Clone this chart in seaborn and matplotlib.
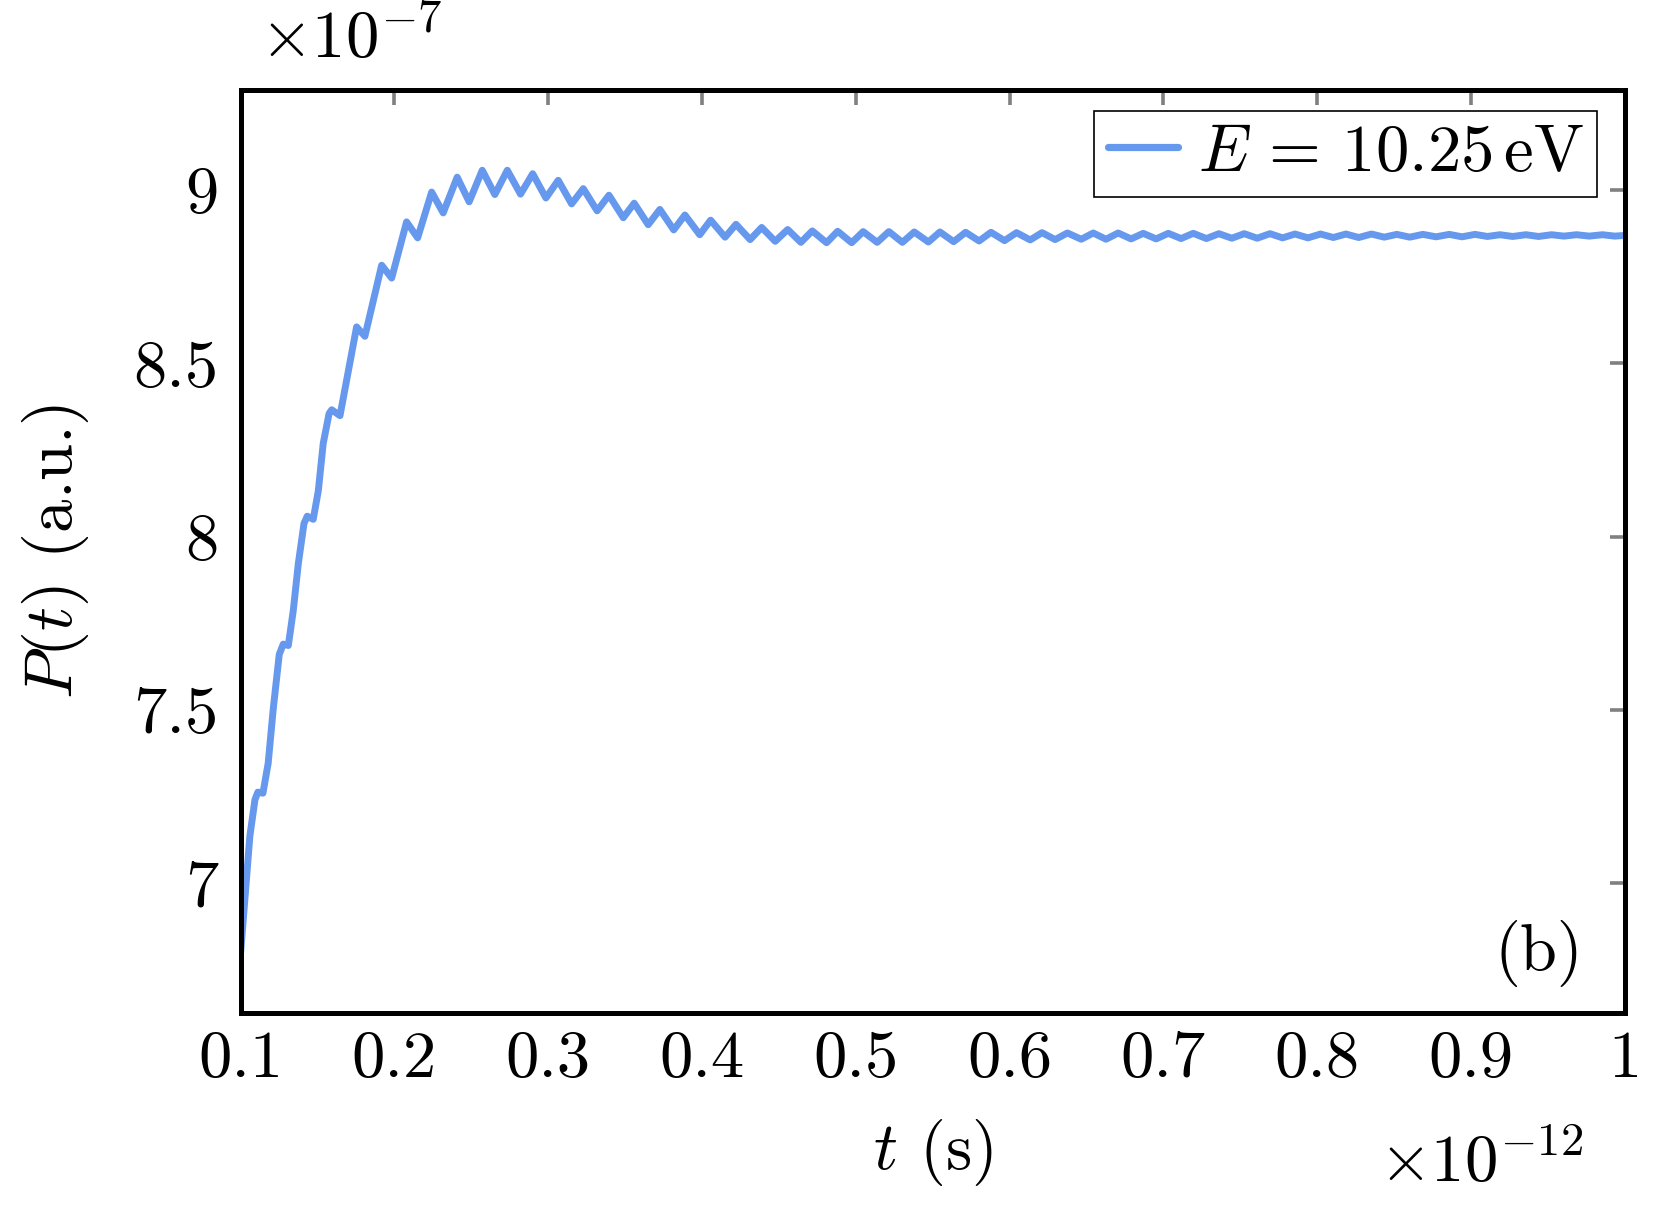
import matplotlib
matplotlib.use("Agg")
import matplotlib.pyplot as plt
import seaborn as sns
import pandas as pd

# time in units of 1e-12 s, P in units of 1e-7 a.u.
t_rise = [0.1000, 0.1060, 0.1093, 0.1112, 0.1145, 0.1179, 0.1212, 0.1251, 0.1277,
          0.1310, 0.1342, 0.1375, 0.1412, 0.1433, 0.1472, 0.1505, 0.1537, 0.1575]
p_rise = [6.800, 7.136, 7.241, 7.263, 7.260, 7.346, 7.503, 7.660, 7.690,
          7.686, 7.786, 7.922, 8.038, 8.059, 8.050, 8.132, 8.269, 8.355]

t_peak = [0.1592, 0.1754, 0.1917, 0.2079, 0.2242, 0.2408, 0.2571, 0.2734, 0.2899, 0.3065,
          0.3228, 0.3395, 0.3559, 0.3726, 0.3889, 0.4056, 0.4221, 0.4388, 0.4557, 0.4717,
          0.4882, 0.5048, 0.5215, 0.5380, 0.5547, 0.5714, 0.5879, 0.6045, 0.6211, 0.6376,
          0.6544, 0.6706, 0.6869, 0.7032, 0.7194, 0.7361, 0.7526, 0.7693, 0.7856, 0.8022,
          0.8187, 0.8353, 0.8518, 0.8687, 0.8859, 0.9026, 0.9188, 0.9357, 0.9524, 0.9686, 0.9855]
p_peak = [8.366, 8.605, 8.783, 8.908, 8.994, 9.037, 9.057, 9.057, 9.047, 9.028,
          9.004, 8.985, 8.962, 8.944, 8.928, 8.913, 8.901, 8.892, 8.886, 8.882,
          8.881, 8.880, 8.880, 8.879, 8.879, 8.878, 8.878, 8.877, 8.877, 8.876,
          8.876, 8.876, 8.875, 8.875, 8.875, 8.874, 8.874, 8.874, 8.873, 8.873,
          8.873, 8.873, 8.872, 8.872, 8.872, 8.872, 8.871, 8.871, 8.871, 8.871, 8.871]

t_trough = [0.1646, 0.1808, 0.1982, 0.2151, 0.2317, 0.2486, 0.2653, 0.2820, 0.2985, 0.3152,
            0.3318, 0.3488, 0.3650, 0.3816, 0.3985, 0.4150, 0.4313, 0.4476, 0.4643, 0.4810,
            0.4973, 0.5139, 0.5303, 0.5472, 0.5636, 0.5802, 0.5967, 0.6134, 0.6296, 0.6466,
            0.6627, 0.6790, 0.6953, 0.7115, 0.7280, 0.7445, 0.7610, 0.7775, 0.7940, 0.8105,
            0.8270, 0.8436, 0.8602, 0.8773, 0.8942, 0.9107, 0.9272, 0.9440, 0.9605, 0.9770, 0.9935]
p_trough = [8.349, 8.578, 8.746, 8.862, 8.934, 8.966, 8.987, 8.988, 8.977, 8.960,
            8.940, 8.920, 8.900, 8.885, 8.871, 8.864, 8.857, 8.852, 8.849, 8.848,
            8.848, 8.849, 8.849, 8.850, 8.851, 8.853, 8.854, 8.856, 8.857, 8.858,
            8.858, 8.859, 8.859, 8.860, 8.860, 8.861, 8.861, 8.862, 8.862, 8.863,
            8.863, 8.864, 8.864, 8.865, 8.865, 8.866, 8.866, 8.866, 8.867, 8.867, 8.867]

t_end = [1.0]
p_end = [8.869]

x_ticks = [0.1, 0.2, 0.3, 0.4, 0.5, 0.6, 0.7, 0.8, 0.9, 1.0]
y_ticks = [7, 7.5, 8, 8.5, 9]

df = pd.DataFrame({"t": t_rise + t_peak + t_trough + t_end,
                   "P": p_rise + p_peak + p_trough + p_end}).sort_values("t")

sns.set_theme(style="white")
plt.rcParams["mathtext.fontset"] = "cm"
plt.rcParams["font.family"] = ["cmr10", "DejaVu Serif"]
plt.rcParams["axes.formatter.use_mathtext"] = True
plt.rcParams["text.color"] = "black"
plt.rcParams["axes.labelcolor"] = "black"
plt.rcParams["xtick.labelcolor"] = "black"
plt.rcParams["ytick.labelcolor"] = "black"

FS = 24
fig = plt.figure(figsize=(8.315, 6.085), dpi=200)
ax = fig.add_axes([0.1447, 0.1674, 0.8323, 0.7585])

line_color = "#6699EE"
sns.lineplot(data=df, x="t", y="P", ax=ax, color=line_color, linewidth=2.5,
             estimator=None, sort=True, label=r"$E\,=\,10.25\,\mathrm{eV}$")
ax.lines[0].set_linewidth(2.5)
ax.lines[0].set_solid_joinstyle("round")

ax.set_xlim(0.1, 1.0)
ax.set_ylim(6.625, 9.288)
ax.set_xticks(x_ticks)
ax.set_yticks(y_ticks)
ax.set_xticklabels([f"{v:g}" for v in x_ticks])
ax.set_yticklabels([f"{v:g}" for v in y_ticks])
ax.tick_params(direction="in", length=5.4, width=1.3, color="#808080",
               top=True, right=True, labelsize=FS, labelcolor="black")
ax.tick_params(axis="x", pad=6)
ax.tick_params(axis="y", pad=8)
for s in ax.spines.values():
    s.set_color("black")
    s.set_linewidth(1.8)

ax.set_xlabel(r"$t$ (s)", fontsize=FS, color="black")
ax.set_ylabel(r"$P(t)$ (a.u.)", fontsize=FS, color="black")
ax.xaxis.set_label_coords(0.5, -0.112)
ax.yaxis.set_label_coords(-0.108, 0.5)

leg = ax.legend(loc="upper right", bbox_to_anchor=(0.9797, 0.9778), borderaxespad=0,
                fontsize=FS, fancybox=False, framealpha=1, edgecolor="black",
                handlelength=1.05, handletextpad=0.3, borderpad=0.2)
leg.get_frame().set_linewidth(0.6)
leg.get_lines()[0].set_linewidth(2.6)
for txt in leg.get_texts():
    txt.set_color("black")

ax.text(0.970, 0.047, "(b)", transform=ax.transAxes, fontsize=FS,
        ha="right", va="baseline", color="black")
fig.text(0.1564, 0.952, r"$\times10^{-7}$", fontsize=FS, ha="left", va="baseline",
         color="black")
fig.text(0.952, 0.0288, r"$\times10^{-12}$", fontsize=FS, ha="right", va="baseline",
         color="black")

fig.savefig("out.png", dpi=200)
